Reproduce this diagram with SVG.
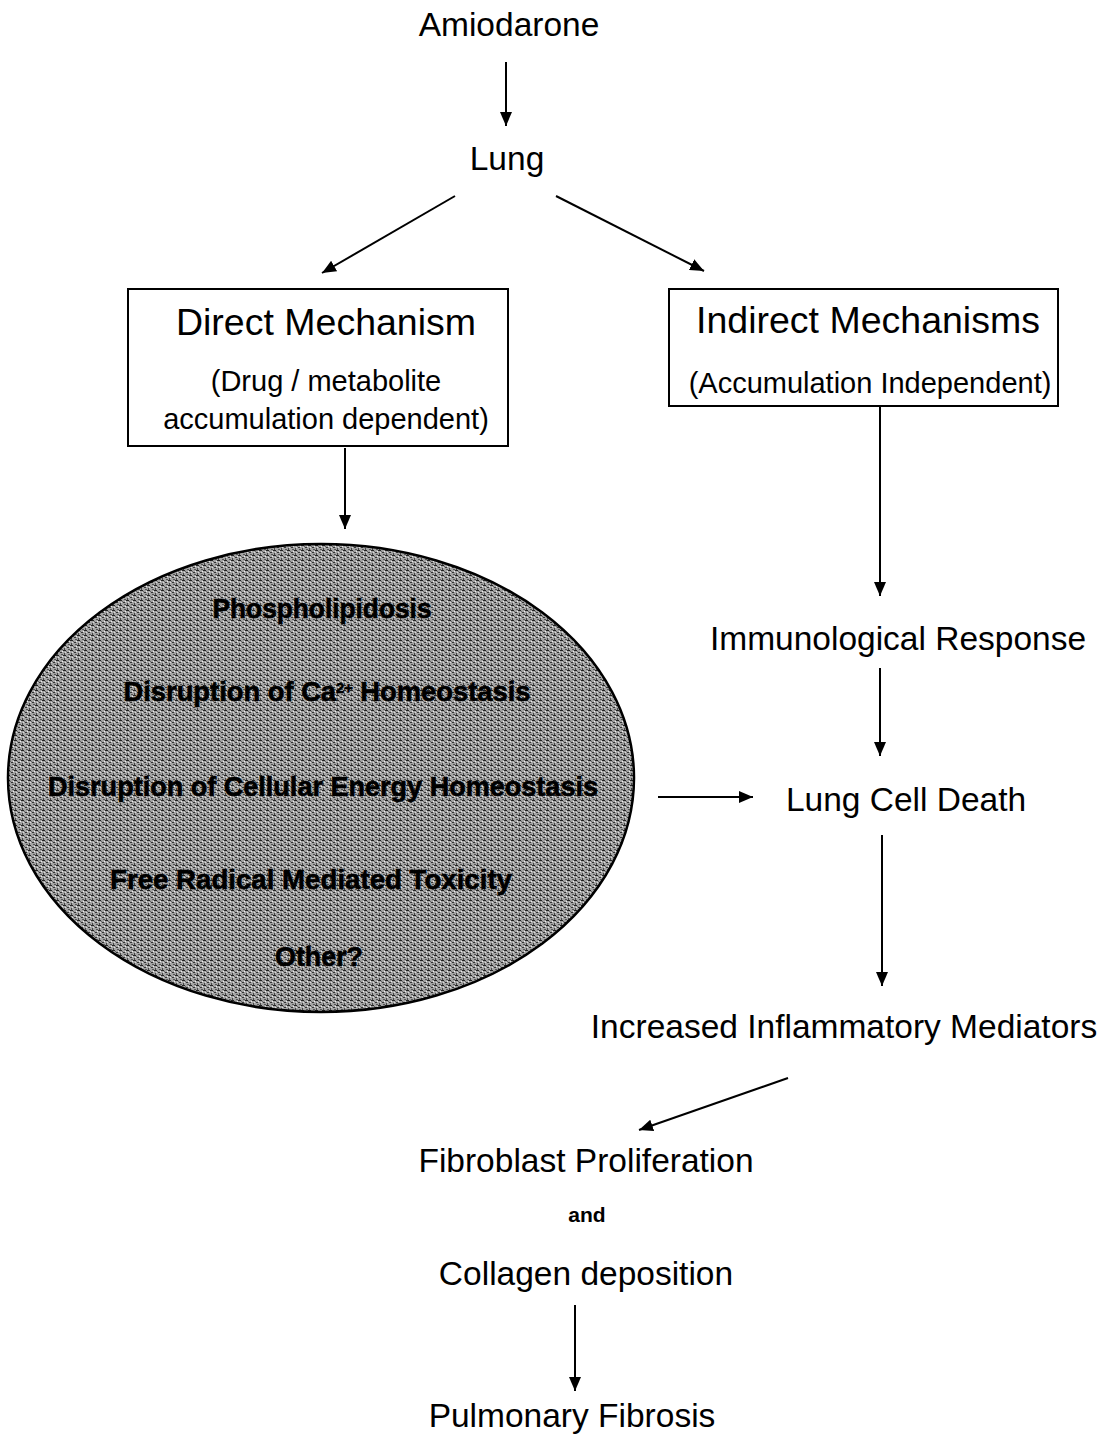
<svg xmlns="http://www.w3.org/2000/svg" width="1112" height="1434" viewBox="0 0 1112 1434">
<defs>
<style>
.t{font-family:"Liberation Sans",Arial,sans-serif;fill:#000;text-anchor:middle}
.big{font-size:33.5px}
.hd{font-size:37.5px}
.sub{font-size:29px}
.el{font-size:28px;font-weight:bold;stroke:#000;stroke-width:0.6}
.c{stroke:#000;stroke-width:2;fill:none;marker-end:url(#ah)}
.box{fill:#fff;stroke:#000;stroke-width:2}
</style>
<marker id="ah" viewBox="0 0 14 12" refX="14" refY="6" markerWidth="14" markerHeight="12" markerUnits="userSpaceOnUse" orient="auto">
<path d="M0,0 L14,6 L0,12 z" fill="#000"/>
</marker>
<pattern id="stip" width="7" height="5" patternUnits="userSpaceOnUse">
<rect width="7" height="5" fill="#a4a4a4"/>
<rect x="0" y="0" width="3" height="1" fill="#222"/>
<rect x="4" y="2" width="2" height="1" fill="#333"/>
<rect x="1" y="3" width="1" height="2" fill="#444"/>
<rect x="5" y="4" width="2" height="1" fill="#555"/>
<rect x="3" y="1" width="1" height="1" fill="#666"/>
<rect x="6" y="1" width="1" height="1" fill="#eee"/>
<rect x="2" y="2" width="1" height="1" fill="#ddd"/>
</pattern>
</defs>
<rect width="1112" height="1434" fill="#fff"/>
<g id="connectors">
<line class="c" x1="506" y1="62" x2="506" y2="126"/>
<line class="c" x1="455" y1="196" x2="322" y2="273"/>
<line class="c" x1="556" y1="196" x2="704" y2="271"/>
<line class="c" x1="345" y1="448" x2="345" y2="529"/>
<line class="c" x1="880" y1="407" x2="880" y2="596"/>
<line class="c" x1="880" y1="668" x2="880" y2="756"/>
<line class="c" x1="658" y1="797" x2="753" y2="797"/>
<line class="c" x1="882" y1="835" x2="882" y2="986"/>
<line class="c" x1="788" y1="1078" x2="639" y2="1130"/>
<line class="c" x1="575" y1="1305" x2="575" y2="1391"/>
</g>
<g id="amiodarone"><text class="t big" x="509" y="36" font-size="34">Amiodarone</text></g>
<g id="lung"><text class="t big" x="507" y="170">Lung</text></g>
<g id="direct">
<rect class="box" x="128" y="289" width="380" height="157"/>
<text class="t hd" x="326" y="335">Direct Mechanism</text>
<text class="t sub" x="326" y="391">(Drug / metabolite</text>
<text class="t sub" x="326" y="429">accumulation dependent)</text>
</g>
<g id="indirect">
<rect class="box" x="669" y="289" width="389" height="117"/>
<text class="t hd" x="868" y="333">Indirect Mechanisms</text>
<text class="t sub" x="870" y="393">(Accumulation Independent)</text>
</g>
<g id="ellipse">
<ellipse cx="321" cy="778" rx="313" ry="234" fill="url(#stip)" stroke="#000" stroke-width="2.5"/>
<text class="t el" x="322" y="618" textLength="219" lengthAdjust="spacingAndGlyphs">Phospholipidosis</text>
<text class="t el" x="327" y="701" textLength="407" lengthAdjust="spacingAndGlyphs">Disruption of Ca<tspan font-size="15" baseline-shift="super">2+</tspan> Homeostasis</text>
<text class="t el" x="323" y="796" textLength="550" lengthAdjust="spacingAndGlyphs">Disruption of Cellular Energy Homeostasis</text>
<text class="t el" x="311" y="889" textLength="402" lengthAdjust="spacingAndGlyphs">Free Radical Mediated Toxicity</text>
<text class="t el" x="319" y="966" textLength="88" lengthAdjust="spacingAndGlyphs">Other?</text>
</g>
<g id="immuno"><text class="t big" x="898" y="650">Immunological Response</text></g>
<g id="death"><text class="t big" x="906" y="811">Lung Cell Death</text></g>
<g id="inflam"><text class="t big" x="844" y="1038">Increased Inflammatory Mediators</text></g>
<g id="fibro">
<text class="t big" x="586" y="1172">Fibroblast Proliferation</text>
<text class="t" x="587" y="1222" font-size="21" font-weight="bold">and</text>
<text class="t big" x="586" y="1285">Collagen deposition</text>
</g>
<g id="pf"><text class="t big" x="572" y="1427">Pulmonary Fibrosis</text></g>
</svg>
